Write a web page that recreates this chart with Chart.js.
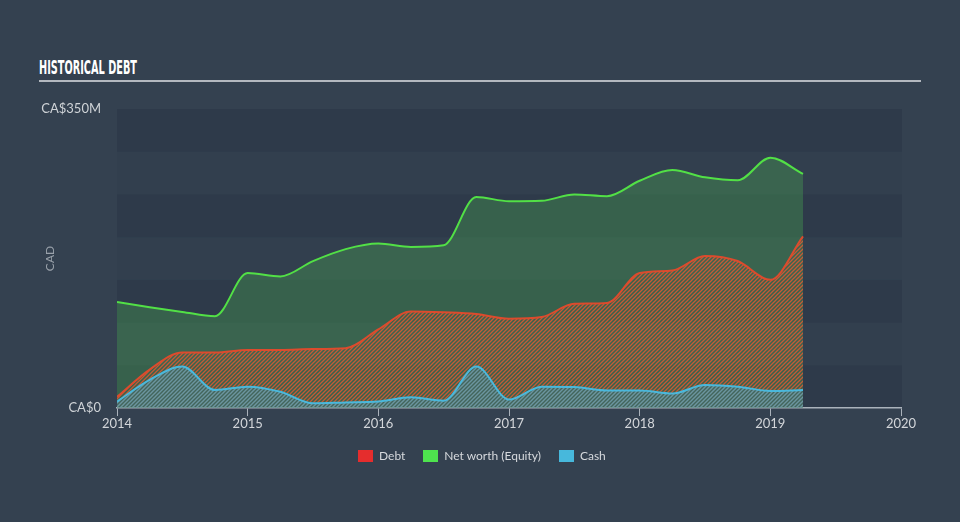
<!DOCTYPE html>
<html lang="en">
<head>
<meta charset="UTF-8">
<title>Historical Debt</title>
<script src="https://cdn.jsdelivr.net/npm/chart.js"></script>
<style>
  body { margin:0; background:#344150; overflow:hidden; }
  #wrap { position:relative; width:960px; height:522px; font-family: Lato, "Open Sans", sans-serif; }
  #title { position:absolute; left:39px; top:57px; font-family:"Liberation Sans Narrow", "DejaVu Sans Condensed", sans-serif;
           font-weight:bold; font-size:20px; line-height:20px; color:#fff; white-space:nowrap; transform-origin:left top; }
  #rule { position:absolute; left:39px; top:80px; width:882px; height:2px; background:#b3b8bf; }
  #chart { position:absolute; left:0; top:0; }
  #legend { position:absolute; left:358px; top:448px; display:flex; align-items:center; font-size:12px; color:#d6d9dd; }
  #legend span.item { display:flex; align-items:center; margin-right:18px; }
  #legend i { display:inline-block; width:15px; height:12px; margin-right:6px; }
</style>
</head>
<body>
<div id="wrap">
  <div id="title">HISTORICAL DEBT</div>
  <div id="rule"></div>
  <canvas id="chart" width="960" height="522"></canvas>
  <div id="legend"></div>
</div>
<script>
// quarterly points, values in CA$ millions
const quarters = [2014, 2014.25, 2014.5, 2014.75, 2015, 2015.25, 2015.5, 2015.75,
                  2016, 2016.25, 2016.5, 2016.75, 2017, 2017.25, 2017.5, 2017.75,
                  2018, 2018.25, 2018.5, 2018.75, 2019, 2019.25];
const debt     = [13, 45, 65, 65, 68, 68, 69, 70, 92, 113, 112, 110,
                  104.5, 106.5, 122, 123, 158, 161, 178, 172, 150, 201];
const netWorth = [124, 118, 112.5, 107.5, 158, 154, 172, 186, 192.5, 188.5, 190.5, 247,
                  242, 242.5, 250, 248, 266, 278.5, 270, 266.5, 293, 274];
const cash     = [7.5, 33, 48.5, 21, 25, 19, 5.5, 6.5, 7.5, 12.5, 8.5, 48.5,
                  10, 25, 24.5, 20.5, 20.5, 17, 27, 25, 20, 21];
const xTicks = [2014, 2015, 2016, 2017, 2018, 2019, 2020];
const yTicks = [0, 350];
const seriesNames = ['Debt', 'Net worth (Equity)', 'Cash'];
const legendColors = ['#e52d2d', '#4ee34e', '#47b8dc'];

// title squeezed to a condensed look
const t = document.getElementById('title');
t.style.transform = 'scaleX(' + (98 / t.offsetWidth) + ')';

// legend
const lg = document.getElementById('legend');
seriesNames.forEach((n, i) => {
    lg.innerHTML += '<span class="item"><i style="background:' + legendColors[i] + '"></i>' + n + '</span>';
});

// diagonal "/" hatch tile
function hatch(color, bg, size, width) {
    const c = document.createElement('canvas');
    c.width = size; c.height = size;
    const x = c.getContext('2d');
    if (bg) { x.fillStyle = bg; x.fillRect(0, 0, size, size); }
    x.strokeStyle = color;
    x.lineWidth = width;
    x.beginPath();
    x.moveTo(-1, size + 1); x.lineTo(size + 1, -1);
    x.moveTo(-1, 1); x.lineTo(1, -1);
    x.moveTo(size - 1, size + 1); x.lineTo(size + 1, size - 1);
    x.stroke();
    return x.createPattern(c, 'repeat');
}

const bands = {
    id: 'bands',
    beforeDraw(chart) {
        const {ctx, chartArea, scales} = chart;
        const y = scales.y;
        for (let i = 0; i < 7; i++) {
            const top = y.getPixelForValue((i + 1) * 50);
            const bot = y.getPixelForValue(i * 50);
            ctx.fillStyle = i % 2 === 0 ? '#2e3a4a' : '#323f4e';
            ctx.fillRect(chartArea.left, top, chartArea.right - chartArea.left + 1, bot - top);
        }
    }
};

const toXY = arr => arr.map((v, i) => ({x: quarters[i], y: v}));

new Chart(document.getElementById('chart').getContext('2d'), {
    type: 'line',
    data: {
        datasets: [
            {
                label: 'Cash', data: toXY(cash), order: 1,
                borderColor: '#4ab8dc', borderWidth: 2,
                backgroundColor: hatch('rgba(80,185,215,0.6)', 'rgba(70,110,120,0.45)', 4, 1.3),
                fill: 'origin'
            },
            {
                label: 'Debt', data: toXY(debt), order: 2,
                borderColor: '#dc4b2d', borderWidth: 2,
                backgroundColor: hatch('rgba(220,90,50,0.85)', null, 4, 1.3),
                fill: 'origin'
            },
            {
                label: 'Net worth (Equity)', data: toXY(netWorth), order: 3,
                borderColor: '#52e046', borderWidth: 2,
                backgroundColor: 'rgba(85,220,85,0.24)',
                fill: 'origin'
            }
        ]
    },
    options: {
        responsive: false,
        animation: false,
        events: [],
        elements: { point: { radius: 0 }, line: { cubicInterpolationMode: 'monotone' } },
        layout: { padding: { top: 109, right: 59, left: 0, bottom: 0 } },
        plugins: { legend: { display: false }, tooltip: { enabled: false } },
        scales: {
            x: {
                type: 'linear', min: 2014, max: 2020,
                afterBuildTicks: s => { s.ticks = xTicks.map(v => ({value: v})); },
                afterFit: s => { s.height = 114; },
                grid: { drawOnChartArea: false, drawTicks: true, tickLength: 8, color: '#aab2bb' },
                border: { display: true, color: '#aab2bb', width: 1.5 },
                ticks: { color: '#d3d6da', font: { family: 'Lato', size: 13 }, padding: 0,
                         maxRotation: 0, callback: v => String(v) }
            },
            y: {
                min: 0, max: 350,
                afterBuildTicks: s => { s.ticks = yTicks.map(v => ({value: v})); },
                afterFit: s => { s.width = 117; },
                grid: { display: false },
                border: { display: false },
                ticks: { color: '#cfd3d7', font: { family: 'Lato', size: 13 }, padding: 8,
                         callback: v => v === 0 ? 'CA$0' : 'CA$' + v + 'M' },
                title: { display: true, text: 'CAD', color: '#9aa2ab',
                         font: { family: 'Lato', size: 12 }, padding: { top: 43, bottom: 0 } }
            }
        }
    },
    plugins: [bands]
});
</script>
</body>
</html>
